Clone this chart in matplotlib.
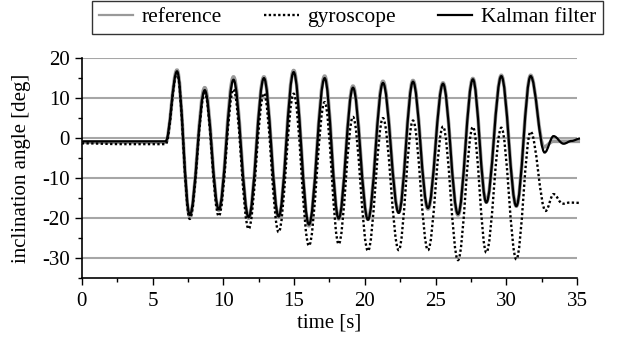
import matplotlib
matplotlib.use("Agg")
import matplotlib.pyplot as plt
from matplotlib.path import Path
from matplotlib.patches import PathPatch
from matplotlib.lines import Line2D
from matplotlib.ticker import MultipleLocator

plt.rcParams['font.family'] = ['Liberation Serif', 'DejaVu Serif']
plt.rcParams['axes.unicode_minus'] = False

# key points (start of swing, then alternating peaks / troughs)
osc_t = [5.93, 6.73, 7.63, 8.69, 9.68, 10.72, 11.79, 12.87, 13.91, 14.97, 16.05, 17.16, 18.15,
         19.16, 20.22, 21.28, 22.39, 23.40, 24.46, 25.52, 26.58, 27.63, 28.58, 29.64, 30.70, 31.71]
ref_osc = [-1.0, 17.0, -19.5, 12.6, -18.0, 15.3, -20.0, 15.3, -19.8, 16.9, -21.9, 15.5, -20.2,
           13.0, -20.3, 14.2, -18.5, 14.4, -17.7, 13.8, -19.2, 14.9, -16.0, 15.7, -17.0, 15.7]
kal_osc = [-0.8, 16.7, -19.2, 12.0, -17.8, 14.6, -19.8, 15.0, -19.6, 16.5, -21.6, 15.0, -20.1,
           12.6, -20.4, 13.8, -18.7, 14.1, -17.5, 13.6, -19.0, 14.7, -16.1, 15.5, -17.0, 15.5]
gyr_osc = [-1.5, 16.3, -20.2, 11.3, -19.5, 12.2, -22.7, 11.2, -23.5, 11.1, -26.9, 9.0, -26.5,
           5.3, -28.2, 5.0, -28.0, 4.4, -28.0, 2.9, -30.5, 2.8, -28.6, 2.6, -30.3, 1.6]

# flat part before the swing and settling part after it
ref_pre_t, ref_pre = [0.0], [-1.0]
kal_pre_t, kal_pre = [0.0], [-0.8]
gyr_pre_t, gyr_pre = [0.0, 3.0], [-1.3, -1.5]

ref_post_t, ref_post = [32.65, 33.3, 35.2], [-2.2, -0.8, -0.8]
kal_post_t, kal_post = [32.70, 33.33, 34.04, 34.6, 35.2], [-3.6, 0.5, -1.4, -0.7, -0.1]
gyr_post_t, gyr_post = [32.77, 33.33, 33.97, 34.5, 35.2], [-18.2, -14.0, -16.4, -16.1, -16.2]


def smooth(ts, ys):
    # cubic Bezier between key points with flat tangents at each point
    verts = [(ts[0], ys[0])]
    codes = [Path.MOVETO]
    for i in range(1, len(ts)):
        dt = ts[i] - ts[i - 1]
        verts += [(ts[i - 1] + 0.364 * dt, ys[i - 1]), (ts[i] - 0.364 * dt, ys[i]), (ts[i], ys[i])]
        codes += [Path.CURVE4] * 3
    return Path(verts, codes)


fig = plt.figure(figsize=(6.24, 3.40), dpi=100)
ax = fig.add_axes([0.131, 0.182, 0.794, 0.647])

series = [
    (ref_pre_t + osc_t + ref_post_t, ref_pre + ref_osc + ref_post,
     dict(color='#999999', lw=2.6, linestyle='-'), 'reference'),
    (gyr_pre_t + osc_t + gyr_post_t, gyr_pre + gyr_osc + gyr_post,
     dict(color='black', lw=1.7, linestyle=(0, (1, 1))), 'gyroscope'),
    (kal_pre_t + osc_t + kal_post_t, kal_pre + kal_osc + kal_post,
     dict(color='black', lw=1.6, linestyle='-'), 'Kalman filter'),
]
handles = []
for i, (ts, ys, style, label) in enumerate(series):
    patch = PathPatch(smooth(ts, ys), facecolor='none', edgecolor=style['color'],
                      lw=style['lw'], linestyle=style['linestyle'], zorder=3 + i,
                      clip_on=False)
    ax.add_patch(patch)
    handles.append(Line2D([], [], color=style['color'], lw=style['lw'] if i else 1.6,
                          linestyle=style['linestyle']))

ax.set_xlim(0, 35)
ax.set_ylim(-35, 20)
ax.xaxis.set_major_locator(MultipleLocator(5))
ax.xaxis.set_minor_locator(MultipleLocator(2.5))
ax.yaxis.set_major_locator(MultipleLocator(10))
ax.yaxis.set_minor_locator(MultipleLocator(5))
ax.tick_params(which='both', direction='out', labelsize=15, width=1)
ax.tick_params(which='major', length=5)
ax.tick_params(which='minor', length=3)
ax.tick_params(axis='x', pad=5)
ax.yaxis.grid(True, color='#a6a6a6', lw=1.5)
for tick in ax.yaxis.get_major_ticks():
    if tick.get_loc() >= 20:
        tick.gridline.set_visible(False)
ax.set_axisbelow(True)
for side in ['top', 'right']:
    ax.spines[side].set_visible(False)
for side in ['left', 'bottom']:
    ax.spines[side].set_linewidth(1.2)

ax.set_xlabel('time [s]', fontsize=15, labelpad=2)
ax.set_ylabel('inclination angle [deg]', fontsize=15, labelpad=8)

leg = fig.legend(handles, [s[3] for s in series], loc='center', ncol=3,
                 bbox_to_anchor=(0.557, 0.949), fontsize=15.5, frameon=True,
                 fancybox=False, edgecolor='black', handlelength=1.6,
                 handletextpad=0.4, columnspacing=1.95, borderpad=0.3,
                 borderaxespad=0)
leg.get_frame().set_linewidth(1.0)

plt.savefig("out.png", dpi=100)
